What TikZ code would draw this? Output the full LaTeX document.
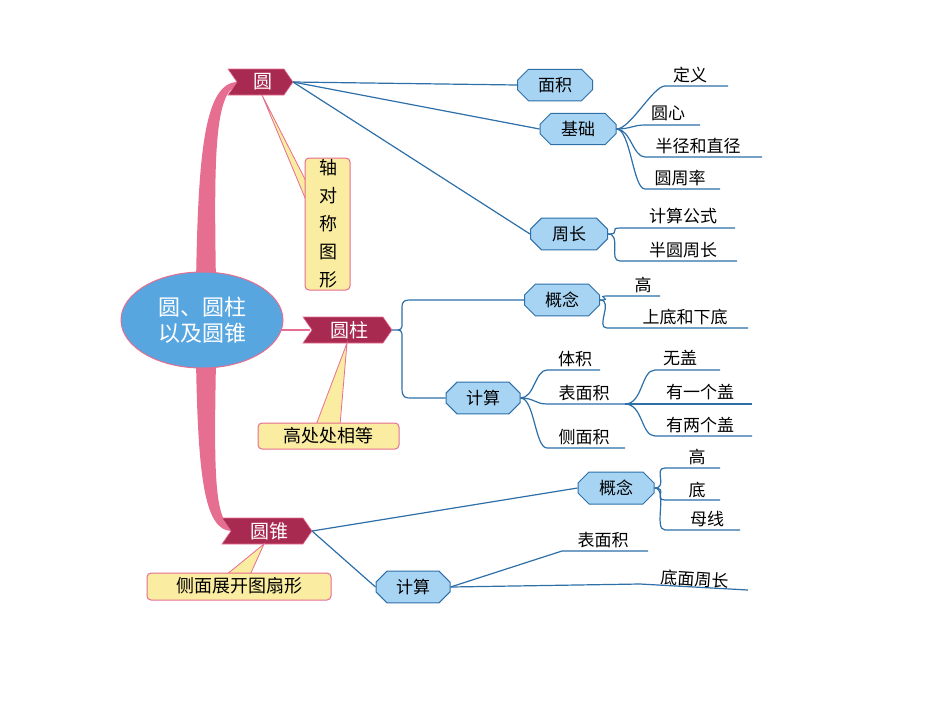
\documentclass[tikz,border=0pt]{standalone}
\usepackage{fontspec}
\setmainfont{Noto Sans CJK SC}
\usetikzlibrary{shapes.misc,shapes.geometric}
\definecolor{ban}{RGB}{168,42,80}
\definecolor{pk}{RGB}{230,110,145}
\definecolor{yl}{RGB}{250,236,160}
\definecolor{bl}{RGB}{168,212,244}
\definecolor{bd}{RGB}{46,111,168}
\definecolor{ctr}{RGB}{88,166,224}
\tikzset{
 bnode/.style={chamfered rectangle,chamfered rectangle xsep=5pt,chamfered rectangle ysep=6pt,draw=bd,fill=bl,line width=1pt,minimum height=21pt,inner sep=2pt,font=\fontsize{17}{17}\selectfont},
 leaf/.style={font=\fontsize{17}{17}\selectfont,inner sep=1pt},
 conn/.style={draw=bd,line width=1.2pt},
 ytext/.style={font=\fontsize{18}{18}\selectfont,inner sep=0pt},
 ybox/.style={draw=pk,fill=yl,line width=1pt,rounded corners=4pt},
 btext/.style={text=white,font=\fontsize{19}{19}\selectfont,inner sep=0pt}
}
\newcommand\bannr[5]{% name x1 x2 yc text
 \fill[ban,draw=pk,line width=0.6pt] (#2,#4-13)--(#3-9,#4-13)--(#3,#4)--(#3-9,#4+13)--(#2,#4+13)--(#2+9,#4)--cycle;
 \node[btext] (#1) at ({(#2+#3)/2+2},#4) {#5};
 \coordinate (#1E) at (#3,#4); \coordinate (#1W) at (#2+9,#4);}
\newcommand\lf[6]{% name textx texty linex1 linex2 text ; line y given separately
 \node[leaf] (#1) at (#2,#3) {#6};}
\begin{document}
\begin{tikzpicture}[x=1pt,y=-1pt]
\useasboundingbox (0,0) rectangle (950,713);
\fill[white] (0,0) rectangle (950,713);
% trunk
\fill[pk] (196,285) .. controls (198,150) and (205,82) .. (238,82) -- (238,85) .. controls (214,92) and (214,160) .. (216,285) -- cycle;
\fill[pk] (196,360) .. controls (198,480) and (205,531) .. (232,531) -- (232,528) .. controls (214,520) and (214,470) .. (216,360) -- cycle;
\draw[pk,line width=1.5pt] (270,330) -- (310,330);
% center
\node[ellipse,draw=pk,fill=ctr,line width=1pt,minimum width=162pt,minimum height=96pt,align=center,text=white,font=\fontsize{22}{26}\selectfont] (c) at (202,320) {圆、圆柱\\以及圆锥};
% banners
\bannr{A}{228}{293}{82}{圆}
\bannr{B}{303}{392}{330}{圆柱}
\bannr{C}{222}{312}{531}{圆锥}
% callouts
\fill[yl,draw=pk,line width=0.8pt] (262,95) -- (308,185) -- (308,205) -- cycle;
\draw[ybox] (305,158) rectangle (350,290);
\node[ytext,align=center,font=\fontsize{18}{28}\selectfont] (y1) at (328,224) {轴\\对\\称\\图\\形};
\fill[yl,draw=pk,line width=0.8pt] (347,343) -- (316,425) -- (340,425) -- cycle;
\draw[ybox] (258,423) rectangle (399,449);
\node[ytext] (y2) at (328,436) {高处处相等};
\fill[yl,draw=pk,line width=0.8pt] (264,544) -- (226,575) -- (250,575) -- cycle;
\draw[ybox] (147,573) rectangle (331,600);
\node[ytext] (y3) at (239,586) {侧面展开图扇形};
% blue nodes
\node[bnode,minimum width=75pt] (mj) at (555,85) {面积};
\node[bnode,minimum width=76pt] (jc) at (578,129) {基础};
\node[bnode,minimum width=77pt] (zc) at (569,234) {周长};
\node[bnode,minimum width=75pt] (gn1) at (562,300) {概念};
\node[bnode,minimum width=74pt] (js1) at (483,398) {计算};
\node[bnode,minimum width=76pt] (gn2) at (616,488) {概念};
\node[bnode,minimum width=74pt] (js2) at (413,587) {计算};
\draw[conn] (AE) -- (mj.west);
\draw[conn] (AE) -- (jc.west);
\draw[conn] (AE) -- (zc.west);
\draw[conn] (CE) -- (gn2.west);
\draw[conn] (CE) -- (js2.west);
\draw[conn] (BE) -- (398,330) .. controls (403,330) and (402,325) .. (402,318) -- (402,308) .. controls (402,300) and (405,300) .. (412,300) -- (gn1.west);
\draw[conn] (398,330) .. controls (403,330) and (402,335) .. (402,342) -- (402,388) .. controls (402,398) and (405,398) .. (412,398) -- (js1.west);
% leaves: name, text pos, line
\foreach \n/\tx/\ty/\la/\lb/\ly/\t/\p in {
 l1/690/75/665/728/86/定义/jc, l2/668/113/645/700/125/圆心/jc, l3/698/146/645/762/157/半径和直径/jc, l4/680/178/645/720/189/圆周率/jc,
 l5/683/216/620/735/228/计算公式/zc, l6/683/250/620/737/261/半圆周长/zc,
 l7/643/285/607/660/296/高/gn1, l8/685/317/607/748/328/上底和下底/gn1,
 l9/575/359/547/600/370/体积/js1, l10/584/393/547/625/404/表面积/js1, l11/584/437/547/625/448/侧面积/js1,
 l15/697/457/665/720/468/高/gn2, l16/697/490/665/720/500/底/gn2, l17/707/519/665/740/530/母线/gn2}{
 \node[leaf] (\n) at (\tx,\ty) {\t};
 \coordinate (\n s) at (\la,\ly);
 \draw[conn] (\p.east) .. controls +(14,0) and +(-12,0) .. (\n s) -- (\lb,\ly);
}
\foreach \n/\tx/\ty/\la/\lb/\ly/\t in {l12/680/358/655/720/370/无盖, l13/700/392/655/752/404/有一个盖, l14/700/425/655/752/436/有两个盖}{
 \node[leaf] (\n) at (\tx,\ty) {\t};
 \coordinate (\n s) at (\la,\ly);
 \draw[conn] (625,404) .. controls +(18,0) and +(-14,0) .. (\n s) -- (\lb,\ly);
}
\node[leaf] (l18) at (603,540) {表面积};
\coordinate (l18s) at (562,551);
\draw[conn] (js2.east) -- (l18s) -- (648,551);
\node[leaf,rotate=-4] (l19) at (695,579) {底面周长};
\coordinate (l19s) at (640,584);
\draw[conn] (js2.east) -- (l19s) -- (748,590);
\end{tikzpicture}
\end{document}
